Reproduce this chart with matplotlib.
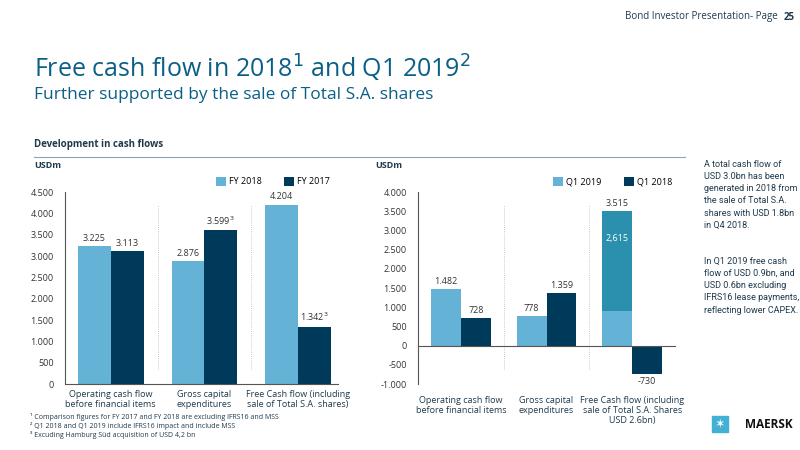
import matplotlib
matplotlib.use("Agg")
import matplotlib.pyplot as plt
import numpy as np

plt.rcParams['font.family'] = ['Open Sans', 'DejaVu Sans']

cats_left = ["Operating cash flow\nbefore financial items", "Gross capital\nexpenditures", "Free Cash flow (including\nsale of Total S.A. shares)"]
fy2018 = [3225, 2876, 4204]
fy2017 = [3113, 3599, 1342]
lab2018 = ["3.225", "2.876", "4.204"]
lab2017 = ["3.113", "3.599$^3$", "1.342$^3$"]

cats_right = ["Operating cash flow\nbefore financial items", "Gross capital\nexpenditures", "Free Cash flow (including\nsale of Total S.A. Shares\nUSD 2.6bn)"]
q12019 = [1482, 778, 900]
q12019_share = [0, 0, 2615]
q12018 = [728, 1359, -730]
labq19 = ["1.482", "778", "3.515"]
labq18 = ["728", "1.359", "-730"]

LIGHT = "#64b2d6"
DARK = "#003a5a"
TEAL = "#2b8fae"
TXT = "#1f3a4d"

fig = plt.figure(figsize=(8, 4.5), dpi=100)
fig.patch.set_facecolor("white")

fig.text(0.972, 1-17/450, "Bond Investor Presentation- Page", ha="right", va="center", fontsize=7, color=TXT)
fig.text(0.993, 1-17/450, "25", ha="right", va="center", fontsize=7, color=TXT, fontweight="bold")
fig.text(34/800, 1-68/450, "Free cash flow in 2018$^1$ and Q1 2019$^2$", fontsize=18, color="#0b5f86", va="center")
fig.text(34/800, 1-95/450, "Further supported by the sale of Total S.A. shares", fontsize=12.5, color="#0b5f86", va="center")
fig.text(34/800, 1-145/450, "Development in cash flows", fontsize=7, color=TXT, fontweight="bold", va="center")
fig.add_artist(plt.Line2D([34/800, 685/800], [1-157/450, 1-157/450], color="#8aa6b8", lw=0.8))
fig.text(34/800, 1-165/450, "USDm", fontsize=6.5, color=TXT, fontweight="bold", va="center")
fig.text(375/800, 1-165/450, "USDm", fontsize=6.5, color=TXT, fontweight="bold", va="center")

w = 0.35
def style(ax):
    for s in ["top", "right"]:
        ax.spines[s].set_visible(False)
    ax.spines["left"].set_color("#555")
    ax.spines["bottom"].set_color("#555")
    ax.tick_params(axis="y", length=0, labelsize=6.5, colors="#333", pad=8)
    ax.tick_params(axis="x", length=0, labelsize=6.5, colors=TXT, pad=4)

# Left chart
ax1 = fig.add_axes([65/800, 66/450, 273/800, 192/450])
x = np.arange(3)
ax1.bar(x - w/2, fy2018, w, color=LIGHT, label="FY 2018")
ax1.bar(x + w/2, fy2017, w, color=DARK, label="FY 2017")
for i in range(3):
    ax1.text(x[i]-w/2, fy2018[i]+80, lab2018[i], ha="center", va="bottom", fontsize=6.5, color="#333")
    ax1.text(x[i]+w/2, fy2017[i]+80, lab2017[i], ha="center", va="bottom", fontsize=6.5, color="#333")
ax1.set_xlim(-0.49, 2.43)
ax1.set_ylim(0, 4500)
ax1.set_yticks(np.arange(0, 4501, 500))
ax1.set_yticklabels([f"{v:,}".replace(",", ".") for v in range(0, 4501, 500)])
ax1.set_xticks(x)
ax1.set_xticklabels(cats_left)
for xs in [0.5, 1.5]:
    ax1.axvline(xs, ymin=0.08, ymax=0.93, color="#bbb", lw=0.6, ls=(0, (1, 1.5)))
style(ax1)
ax1.legend(loc="upper right", bbox_to_anchor=(1.0, 1.12), ncol=2, frameon=False, fontsize=6.5,
           handlelength=1.1, handleheight=1.1, columnspacing=2.5, handletextpad=0.3)

# Right chart
ax2 = fig.add_axes([418/800, 66/450, 257/800, 192/450])
ax2.bar(x - w/2, q12019, w, color=LIGHT, label="Q1 2019")
ax2.bar(x - w/2, q12019_share, w, bottom=q12019, color=TEAL)
ax2.bar(x + w/2, q12018, w, color=DARK, label="Q1 2018")
for i in range(3):
    top = q12019[i] + q12019_share[i]
    ax2.text(x[i]-w/2, top+80, labq19[i], ha="center", va="bottom", fontsize=6.5, color="#333")
    if q12018[i] >= 0:
        ax2.text(x[i]+w/2, q12018[i]+80, labq18[i], ha="center", va="bottom", fontsize=6.5, color="#333")
    else:
        ax2.text(x[i]+w/2, q12018[i]-80, labq18[i], ha="center", va="top", fontsize=6.5, color="#333")
ax2.text(x[2]-w/2, q12019[2] + q12019_share[2]*0.72, "2,615", ha="center", va="center", fontsize=6.5, color="white")
ax2.set_xlim(-0.5, 2.5)
ax2.set_ylim(-1000, 4000)
yt = np.arange(-1000, 4001, 500)
ax2.set_yticks(yt)
ax2.set_yticklabels([f"{v:,}".replace(",", ".") for v in yt])
ax2.set_xticks(x)
ax2.set_xticklabels(cats_right)
ax2.spines["bottom"].set_position(("data", 0))
for xs in [0.5, 1.5]:
    ax2.axvline(xs, ymin=0.08, ymax=0.93, color="#bbb", lw=0.6, ls=(0, (1, 1.5)))
style(ax2)
ax2.tick_params(axis="x", pad=36)
ax2.legend(loc="upper right", bbox_to_anchor=(1.02, 1.12), ncol=2, frameon=False, fontsize=6.5,
           handlelength=1.1, handleheight=1.1, columnspacing=2.5, handletextpad=0.3)

# Footnotes
fn = ["¹ Comparison figures for FY 2017 and FY 2018 are excluding IFRS16 and MSS",
      "² Q1 2018 and Q1 2019 include IFRS16 impact and include MSS",
      "³ Excuding Hamburg Süd acquisition of USD 4,2 bn"]
for i, t in enumerate(fn):
    fig.text(30/800, 1-(417+9*i)/450, t, fontsize=5, color=TXT, va="center")

side1 = "A total cash flow of\nUSD 3.0bn has been\ngenerated in 2018 from\nthe sale of Total S.A.\nshares with USD 1.8bn\nin Q4 2018."
side2 = "In Q1 2019 free cash\nflow of USD 0.9bn, and\nUSD 0.6bn excluding\nIFRS16 lease payments,\nreflecting lower CAPEX."
fig.text(704/800, 1-160/450, side1, fontsize=6.5, color=TXT, va="top", linespacing=1.45,
         family=['Roboto', 'DejaVu Sans'])
fig.text(704/800, 1-257/450, side2, fontsize=6.5, color=TXT, va="top", linespacing=1.45,
         family=['Roboto', 'DejaVu Sans'])

# logo
fig.text(745/800, 1-424/450, "MAERSK", fontsize=8.5, fontweight="bold", color="#111", va="center")
fig.patches.append(plt.Rectangle((712/800, 1-432/450), 16/800, 16/450, transform=fig.transFigure, color="#42b0d5"))
fig.text(720/800, 1-424/450, "✶", fontsize=9, color="white", ha="center", va="center")

fig.savefig("out.png", dpi=100)
